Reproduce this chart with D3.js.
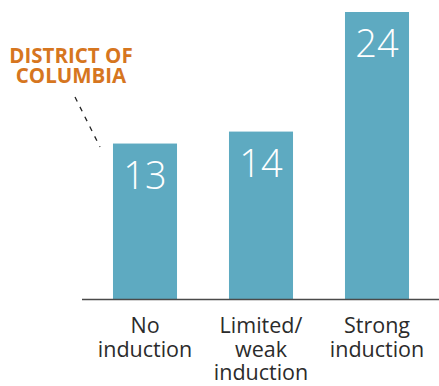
<!DOCTYPE html>
<html>
<head>
<meta charset="utf-8">
<script src="https://cdn.jsdelivr.net/npm/d3@7"></script>
<style>
  html, body { margin: 0; padding: 0; background: #fff; }
  svg { display: block; }
</style>
</head>
<body>
<svg id="chart" width="439" height="386"></svg>
<script>
// Number of states by level of induction
const categories = ["No induction", "Limited/weak induction", "Strong induction"];
const categoryLines = [["No", "induction"], ["Limited/", "weak", "induction"], ["Strong", "induction"]];
const values = [13, 14, 24];
const calloutLines = ["DISTRICT OF", "COLUMBIA"];

const svg = d3.select("#chart");
const W = 439, H = 386;
const baseY = 299;

const x = d3.scaleBand()
  .domain(categories)
  .range([87, 435])
  .paddingInner(0.448)
  .paddingOuter(0.224);

const y = d3.scaleLinear()
  .domain([0, 24])
  .range([baseY, 12]);

const barColor = "#5eaac1";

// bars
svg.append("g").selectAll("rect")
  .data(values)
  .join("rect")
  .attr("x", (d, i) => x(categories[i]))
  .attr("y", d => y(d))
  .attr("width", x.bandwidth())
  .attr("height", d => y(0) - y(d))
  .attr("fill", barColor);

// value labels inside bars
svg.append("g").selectAll("text")
  .data(values)
  .join("text")
  .attr("x", (d, i) => x(categories[i]) + x.bandwidth() / 2)
  .attr("y", d => y(d) + 45)
  .attr("text-anchor", "middle")
  .attr("fill", "#fff")
  .attr("font-family", "'Open Sans', sans-serif")
  .attr("font-weight", 300)
  .attr("font-size", 38)
  .text(d => d);

// baseline
svg.append("line")
  .attr("x1", 82).attr("x2", W)
  .attr("y1", baseY + 0.5).attr("y2", baseY + 0.5)
  .attr("stroke", "#4a4a4a")
  .attr("stroke-width", 1.5);

// category labels
const cat = svg.append("g").selectAll("text")
  .data(categories)
  .join("text")
  .attr("x", d => x(d) + x.bandwidth() / 2)
  .attr("y", 333)
  .attr("text-anchor", "middle")
  .attr("fill", "#2b2b2b")
  .attr("font-family", "'Open Sans', sans-serif")
  .attr("font-size", 21.5);
cat.each(function(d, i) {
  d3.select(this).selectAll("tspan")
    .data(categoryLines[i])
    .join("tspan")
    .attr("x", x(d) + x.bandwidth() / 2)
    .attr("dy", (t, j) => j === 0 ? 0 : 23.7)
    .text(t => t);
});

// callout for District of Columbia
svg.append("text")
  .attr("x", 71)
  .attr("y", 63)
  .attr("text-anchor", "middle")
  .attr("fill", "#d6761f")
  .attr("font-family", "'Open Sans', sans-serif")
  .attr("font-weight", 700)
  .attr("font-size", 20.5)
  .selectAll("tspan")
  .data(calloutLines)
  .join("tspan")
  .attr("x", 71)
  .attr("dy", (t, j) => j === 0 ? 0 : 20)
  .text(t => t);

svg.append("line")
  .attr("x1", 75).attr("y1", 97)
  .attr("x2", 100).attr("y2", 147)
  .attr("stroke", "#222")
  .attr("stroke-width", 1.3)
  .attr("stroke-dasharray", "5,6");
</script>
</body>
</html>
